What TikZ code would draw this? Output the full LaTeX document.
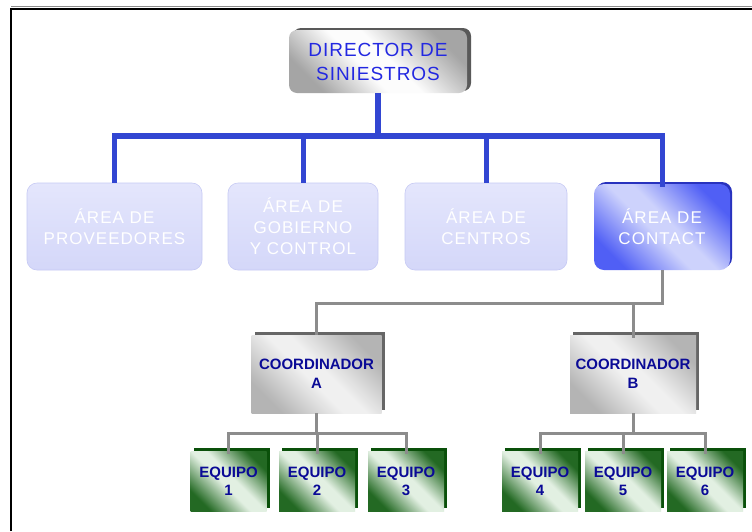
\documentclass[tikz,border=0pt]{standalone}
\usepackage{fontspec}
\setmainfont{Liberation Sans}
\usetikzlibrary{shadows}
\definecolor{dirtext}{RGB}{35,40,225}
\definecolor{navytext}{RGB}{10,10,150}
\definecolor{bconn}{RGB}{50,70,210}
\definecolor{gconn}{RGB}{140,140,140}
\definecolor{areafill}{RGB}{228,230,252}
\definecolor{areafillb}{RGB}{212,215,249}
\definecolor{areadraw}{RGB}{198,202,244}
\definecolor{cdark}{RGB}{80,95,245}
\definecolor{clight}{RGB}{205,210,252}
\definecolor{cshadow}{RGB}{40,50,190}
\definecolor{gdark}{RGB}{35,105,35}
\definecolor{glight}{RGB}{226,240,226}
\definecolor{gshadow}{RGB}{10,80,10}
\definecolor{grdark}{RGB}{165,165,165}
\definecolor{grlight}{RGB}{252,252,252}
\definecolor{crdark}{RGB}{180,180,180}
\definecolor{crlight}{RGB}{240,240,240}
\pgfdeclareverticalshading{greenq}{100bp}{color(0bp)=(gdark); color(25bp)=(gdark); color(46bp)=(glight); color(54bp)=(glight); color(75bp)=(gdark); color(100bp)=(gdark)}
\pgfdeclareverticalshading{bluea}{100bp}{color(0bp)=(cdark); color(25bp)=(cdark); color(46bp)=(clight); color(54bp)=(clight); color(75bp)=(cdark); color(100bp)=(cdark)}
\pgfdeclareverticalshading{grayd}{100bp}{color(0bp)=(grdark); color(25bp)=(grdark); color(44bp)=(grlight); color(54bp)=(grlight); color(75bp)=(grdark); color(100bp)=(grdark)}
\pgfdeclareverticalshading{grayc}{100bp}{color(0bp)=(crdark); color(25bp)=(crdark); color(46bp)=(crlight); color(54bp)=(crlight); color(75bp)=(crdark); color(100bp)=(crdark)}
\tikzset{
  dirbox/.style={rounded corners=8pt, inner sep=0pt, align=center,
    shading=grayd, shading angle=-45,
    drop shadow={shadow xshift=4pt, shadow yshift=2pt, fill=black!65, opacity=1},
    text=dirtext, font=\fontsize{19}{24}\selectfont\addfontfeature{LetterSpace=5}},
  areabox/.style={rounded corners=10pt, inner sep=0pt, align=center,
    top color=areafill, bottom color=areafillb, draw=areadraw, line width=0.6pt,
    text=white, font=\fontsize{17}{21}\selectfont\addfontfeature{LetterSpace=6}},
  areaact/.style={rounded corners=10pt, inner sep=0pt, align=center,
    shading=bluea, shading angle=-45,
    drop shadow={shadow xshift=2pt, shadow yshift=2pt, fill=cshadow, opacity=1},
    text=white, font=\fontsize{17}{21}\selectfont\addfontfeature{LetterSpace=6}},
  coordbox/.style={inner sep=0pt, align=center,
    shading=grayc, shading angle=-45,
    drop shadow={shadow xshift=3pt, shadow yshift=3pt, fill=black!60, opacity=1},
    text=navytext, font=\fontsize{15}{19}\selectfont\bfseries},
  eqbox/.style={inner sep=0pt, align=center, minimum width=76pt, minimum height=60pt,
    shading=greenq, shading angle=-45,
    drop shadow={shadow xshift=3pt, shadow yshift=3pt, fill=gshadow, opacity=1},
    text=navytext, font=\fontsize{15}{18}\selectfont\bfseries},
  bline/.style={draw=bconn, line width=6pt},
  gline/.style={draw=gconn, line width=3pt},
}
\begin{document}
\begin{tikzpicture}[x=1pt,y=-1pt]
\useasboundingbox (0,0) rectangle (752,531);
\fill[white] (0,0) rectangle (752,531);
% frame
\draw[black!45, line width=1pt] (11,6.8) -- (752,6.8);
\draw[black, line width=2pt] (11,531) -- (11,8.5) -- (752,8.5);

% nodes
\node[dirbox, minimum width=178pt, minimum height=63pt] (dir) at (378,61.5) {DIRECTOR DE\\SINIESTROS};

\node[areabox, minimum width=175pt, minimum height=87pt] (a1) at (114.5,226.5) {ÁREA DE\\PROVEEDORES};
\node[areabox, minimum width=150pt, minimum height=87pt] (a2) at (303,226.5) {ÁREA DE\\GOBIERNO\\Y CONTROL};
\node[areabox, minimum width=162pt, minimum height=87pt] (a3) at (486,226.5) {ÁREA DE\\CENTROS};
\node[areaact, minimum width=136pt, minimum height=86pt] (a4) at (662,227) {ÁREA DE\\CONTACT};

\node[coordbox, minimum width=130pt, minimum height=78pt] (ca) at (316.5,374) {COORDINADOR\\A};
\node[coordbox, minimum width=126pt, minimum height=78pt] (cb) at (633,374) {COORDINADOR\\B};

\node[eqbox] (e1) at (228.5,481) {EQUIPO\\1};
\node[eqbox] (e2) at (317,481) {EQUIPO\\2};
\node[eqbox] (e3) at (406,481) {EQUIPO\\3};
\node[eqbox] (e4) at (540,481) {EQUIPO\\4};
\node[eqbox] (e5) at (623,481) {EQUIPO\\5};
\node[eqbox] (e6) at (705,481) {EQUIPO\\6};

% blue connectors
\coordinate (bar) at (0,136);
\draw[bline] (dir.south) -- (dir.south |- bar);
\draw[bline, line cap=rect] (a1.north |- bar) -- (a4.north |- bar);
\draw[bline, line width=5pt] (a1.north |- bar) -- (a1.north);
\draw[bline, line width=5pt] (a2.north |- bar) -- (a2.north);
\draw[bline, line width=5pt] (a3.north |- bar) -- (a3.north);
\draw[bline, line width=5pt] (a4.north |- bar) -- ([yshift=-3pt]a4.north);

% gray connectors
\coordinate (gbar) at (0,303);
\draw[gline] (a4.south) -- (a4.south |- gbar);
\draw[gline, line cap=rect] (ca.north |- gbar) -- (a4.south |- gbar);
\draw[gline] (ca.north |- gbar) -- (ca.north);
\draw[gline] (cb.north |- gbar) -- ([yshift=-3pt]cb.north);

\coordinate (ebar) at (0,433);
\draw[gline] (ca.south) -- (ca.south |- ebar);
\draw[gline, line cap=rect] (e1.north |- ebar) -- (e3.north |- ebar);
\draw[gline] (e1.north |- ebar) -- ([yshift=-3pt]e1.north);
\draw[gline] (e2.north |- ebar) -- ([yshift=-3pt]e2.north);
\draw[gline] (e3.north |- ebar) -- ([yshift=-3pt]e3.north);

\draw[gline] (cb.south) -- (cb.south |- ebar);
\draw[gline, line cap=rect] (e4.north |- ebar) -- (e6.north |- ebar);
\draw[gline] (e4.north |- ebar) -- ([yshift=-3pt]e4.north);
\draw[gline] (e5.north |- ebar) -- ([yshift=-3pt]e5.north);
\draw[gline] (e6.north |- ebar) -- ([yshift=-3pt]e6.north);
\end{tikzpicture}
\end{document}
